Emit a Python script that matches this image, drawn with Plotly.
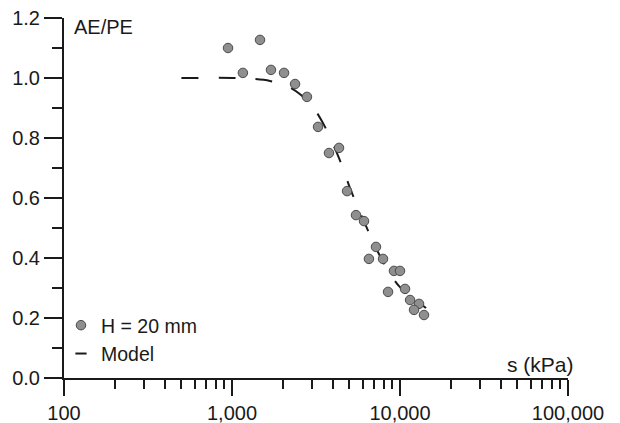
import plotly.graph_objects as go

# Measured data (H = 20 mm)
suction_kpa = [947, 1161, 1468, 1706, 2041, 2373, 2793, 3252, 3778, 4335, 4841, 5472,
               6107, 7194, 6533, 7925, 9206, 10000, 10712, 8490, 11482, 12982, 12118, 13895]
ae_pe = [1.10, 1.017, 1.127, 1.027, 1.017, 0.98, 0.937, 0.837, 0.75, 0.767, 0.623, 0.543,
         0.523, 0.437, 0.397, 0.397, 0.357, 0.357, 0.297, 0.287, 0.26, 0.247, 0.227, 0.21]

# Model curve
model_s = [500, 1000, 1334, 1683, 2183, 2577, 3119, 3530, 3939, 4335, 4775, 5039,
           7390, 8840, 10000, 13150, 14290]
model_v = [1.0, 1.0, 0.997, 0.99, 0.97, 0.943, 0.893, 0.843, 0.787, 0.733, 0.67, 0.633,
           0.42, 0.343, 0.303, 0.25, 0.233]

x_tickvals = [100, 1000, 10000, 100000]
x_ticktext = ["100", "1,000", "10,000", "100,000"]

FONT = "Arial, Liberation Sans, sans-serif"
INK = "#1a1a1a"

fig = go.Figure()
fig.add_trace(go.Scatter(
    x=model_s, y=model_v, mode="lines", showlegend=False,
    line=dict(color=INK, width=2, dash="17px,20px", shape="spline"),
))
fig.add_trace(go.Scatter(
    x=suction_kpa, y=ae_pe, mode="markers", name="H = 20 mm",
    marker=dict(size=9.5, color="#8f8f8f", line=dict(color="#4a4a4a", width=1)),
))
fig.add_trace(go.Scatter(
    x=[None], y=[None], mode="markers", name="Model",
    marker=dict(symbol="line-ew", size=8, line=dict(color=INK, width=2)),
))

# page body has an 8px default margin: shift the figure frame accordingly
fig.update_layout(
    width=612, height=415,
    margin=dict(l=56, r=52, t=10, b=45),
    paper_bgcolor="white", plot_bgcolor="white",
    font=dict(family=FONT, size=20, color=INK),
    legend=dict(x=-0.006, y=0.2, xanchor="left", yanchor="top",
                bgcolor="rgba(0,0,0,0)", font=dict(size=19.5),
                itemwidth=30),
    xaxis=dict(
        type="log", range=[2, 5], showline=True, linecolor=INK, linewidth=2,
        showgrid=False, zeroline=False, automargin=False,
        tickvals=x_tickvals, ticktext=x_ticktext, ticklabeloverflow="allow",
        ticks="outside", ticklen=16, tickwidth=2, tickcolor=INK,
        minor=dict(dtick="D1", ticks="outside", ticklen=9, tickwidth=2,
                   tickcolor=INK, showgrid=False),
        tickfont=dict(size=20),
    ),
    yaxis=dict(
        range=[0, 1.2], showline=True, linecolor=INK, linewidth=2,
        showgrid=False, zeroline=False, automargin=False,
        dtick=0.2, tick0=0, tickformat=".1f", ticklabeloverflow="allow",
        ticks="outside", ticklen=18, tickwidth=2, tickcolor=INK,
        minor=dict(dtick=0.1, ticks="outside", ticklen=10, tickwidth=2,
                   tickcolor=INK, showgrid=False),
        tickfont=dict(size=20),
    ),
    annotations=[
        dict(text="AE/PE", xref="paper", yref="paper", x=0.015, y=1.0, yshift=4,
             xanchor="left", yanchor="top", showarrow=False, font=dict(size=20)),
        dict(text="s (kPa)", xref="paper", yref="paper", x=1.016, y=0.0,
             xanchor="right", yanchor="bottom", showarrow=False, font=dict(size=21)),
    ],
)

fig.write_html("out.html")
